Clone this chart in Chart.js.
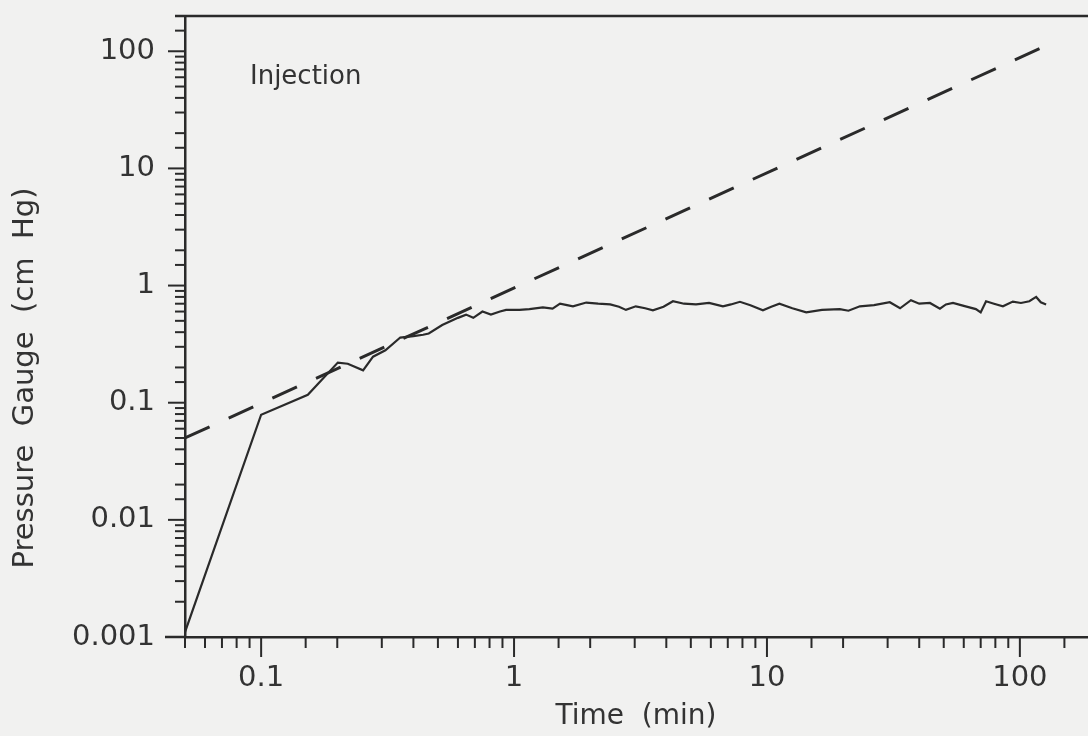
<!DOCTYPE html>
<html>
<head>
<meta charset="utf-8">
<title>Injection - Pressure Gauge</title>
<script src="https://cdn.jsdelivr.net/npm/chart.js@4.4.1/dist/chart.umd.min.js"></script>
<style>
  html, body { margin: 0; padding: 0; background: #f1f1f0; overflow: hidden; }
  #wrap { width: 1088px; height: 736px; overflow: hidden; }
</style>
</head>
<body>
<div id="wrap"><canvas id="myChart" width="1096" height="736"></canvas></div>
<script>
// measured gauge trace (min, cm Hg)
const measuredTime = [0.05, 0.1, 0.153, 0.201, 0.22, 0.253, 0.277, 0.31, 0.355, 0.40, 0.437, 0.46, 0.52, 0.60, 0.646, 0.69, 0.75, 0.81, 0.88, 0.93,
    1.05, 1.15, 1.3, 1.42, 1.52, 1.62, 1.71, 1.93, 2.15, 2.4, 2.6, 2.77, 3.03, 3.3, 3.54, 3.9, 4.25, 4.7, 5.24, 5.9, 6.7, 7.2, 7.82, 8.6, 9.64,
    10.4, 11.2, 12.6, 14.3, 16.5, 19.4, 21, 23.3, 26.5, 30.6, 33.6, 37.1, 40, 44.1, 48.3, 51, 54.4, 60, 67, 70, 73.5, 79, 85.7,
    93.8, 101, 109, 116, 121, 127]
const measuredPressure = [0.0011, 0.079, 0.117, 0.22, 0.215, 0.189, 0.247, 0.28, 0.36, 0.37, 0.38, 0.39, 0.46, 0.53, 0.565, 0.53, 0.60, 0.565, 0.60, 0.62,
    0.62, 0.63, 0.65, 0.635, 0.70, 0.68, 0.665, 0.716, 0.70, 0.69, 0.66, 0.62, 0.665, 0.64, 0.615, 0.66, 0.735, 0.70, 0.69, 0.71, 0.665, 0.69, 0.727, 0.68, 0.615,
    0.66, 0.70, 0.64, 0.59, 0.62, 0.63, 0.61, 0.665, 0.68, 0.72, 0.64, 0.75, 0.70, 0.71, 0.635, 0.69, 0.71, 0.67, 0.63, 0.59, 0.735, 0.70, 0.665,
    0.73, 0.71, 0.735, 0.80, 0.72, 0.69]

// dashed reference line
const fitTime = [0.05, 125]
const fitPressure = [0.05, 110]

const timeTicks = ['0.1', '1', '10', '100']
const pressureTicks = ['0.001', '0.01', '0.1', '1', '10', '100']

const ink = '#2a2a2a'
const font = '"DejaVu Sans", "Liberation Sans", sans-serif'

const isDecade = (v) => Math.abs(Math.log10(v) - Math.round(Math.log10(v))) < 1e-6
const tickText = (list) => (value) => {
    const hit = list.find(t => Math.abs(Number(t) - value) / value < 1e-6)
    return hit === undefined ? '' : hit
}

const frame = {
    id: 'frame',
    afterDraw(chart) {
        const ctx = chart.ctx
        const area = chart.chartArea
        const xs = chart.scales.x
        const ys = chart.scales.y
        ctx.save()
        ctx.strokeStyle = ink
        ctx.lineWidth = 2.5
        ctx.beginPath()
        ctx.moveTo(area.left - 10, area.top)
        ctx.lineTo(area.right, area.top)
        ctx.stroke()

        ctx.lineWidth = 2
        xs.ticks.forEach(t => {
            const px = xs.getPixelForValue(t.value)
            const len = isDecade(t.value) ? 20 : 11
            ctx.beginPath()
            ctx.moveTo(px, area.bottom)
            ctx.lineTo(px, area.bottom + len)
            ctx.stroke()
        })
        ys.ticks.forEach(t => {
            const py = ys.getPixelForValue(t.value)
            const len = isDecade(t.value) ? 17 : 10
            ctx.beginPath()
            ctx.moveTo(area.left, py)
            ctx.lineTo(area.left - len, py)
            ctx.stroke()
        })
        ctx.lineWidth = 2.5
        ctx.beginPath()
        ctx.moveTo(area.left - 20, area.bottom)
        ctx.lineTo(area.left, area.bottom)
        ctx.stroke()

        ctx.fillStyle = '#333'
        ctx.textBaseline = 'middle'
        ctx.textAlign = 'left'
        ctx.font = '26px ' + font
        ctx.fillText('Injection', 250, 77)

        ctx.textAlign = 'center'
        ctx.font = '28px ' + font
        ctx.fillText('Time  (min)', 636, 717)

        ctx.translate(25, 378)
        ctx.rotate(-Math.PI / 2)
        ctx.font = '29px ' + font
        ctx.fillText('Pressure  Gauge  (cm  Hg)', 0, 0)
        ctx.restore()
    }
}

new Chart('myChart', {
    type: 'scatter',
    data: {
        datasets: [{
            label: 'Measured',
            data: measuredTime.map((t, i) => ({ x: t, y: measuredPressure[i] })),
            showLine: true,
            borderColor: ink,
            borderWidth: 2.2,
            pointRadius: 0,
            tension: 0
        }, {
            label: 'Slope 1',
            data: fitTime.map((t, i) => ({ x: t, y: fitPressure[i] })),
            showLine: true,
            borderColor: ink,
            borderWidth: 3,
            borderDash: [27, 21],
            pointRadius: 0
        }]
    },
    options: {
        responsive: false,
        animation: false,
        layout: { padding: { top: 16, right: 0, left: 0, bottom: 0 } },
        plugins: {
            legend: { display: false },
            tooltip: { enabled: false }
        },
        scales: {
            x: {
                type: 'logarithmic',
                min: 0.05,
                max: 200,
                afterFit: (scale) => {
                    scale.height = 99
                    scale.paddingLeft = 0
                    scale.paddingRight = 0
                },
                border: { display: true, color: ink, width: 2.5 },
                grid: { drawOnChartArea: false, drawTicks: true, tickLength: 20, tickColor: 'rgba(0,0,0,0)' },
                ticks: {
                    autoSkip: false,
                    maxRotation: 0,
                    padding: 4,
                    color: '#333',
                    font: { family: font, size: 29 },
                    callback: tickText(timeTicks)
                }
            },
            y: {
                type: 'logarithmic',
                min: 0.001,
                max: 200,
                afterFit: (scale) => {
                    scale.width = 185
                    scale.paddingTop = 0
                    scale.paddingBottom = 0
                },
                border: { display: true, color: ink, width: 2.5 },
                grid: { drawOnChartArea: false, drawTicks: true, tickLength: 18, tickColor: 'rgba(0,0,0,0)' },
                ticks: {
                    autoSkip: false,
                    padding: 12,
                    color: '#333',
                    font: { family: font, size: 29 },
                    callback: tickText(pressureTicks)
                }
            }
        }
    },
    plugins: [frame]
})
</script>
</body>
</html>
